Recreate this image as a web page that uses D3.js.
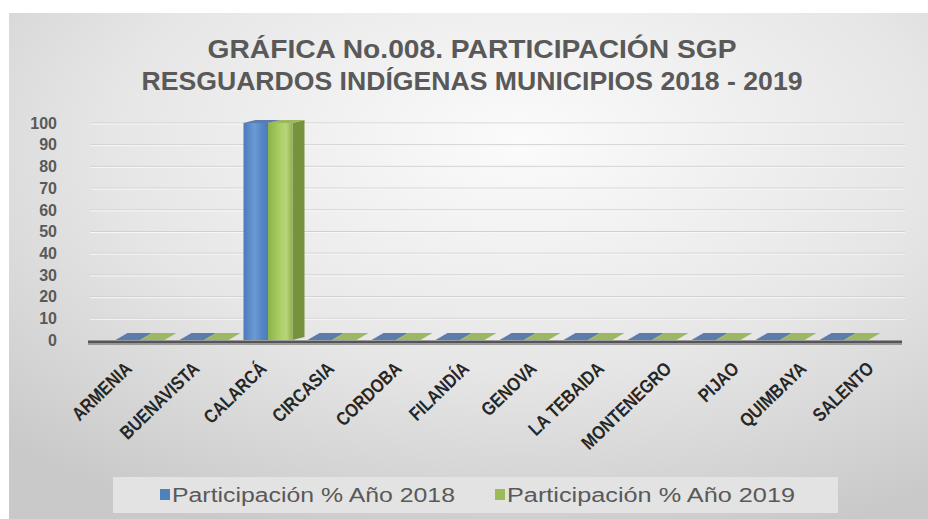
<!DOCTYPE html>
<html><head><meta charset="utf-8">
<script src="https://cdn.jsdelivr.net/npm/d3@7"></script>
<style>body{margin:0;background:#fff}svg{display:block}</style>
</head><body><svg id="c" width="928" height="519"></svg>
<script>
const titleLines = ["GRÁFICA No.008. PARTICIPACIÓN SGP", "RESGUARDOS INDÍGENAS MUNICIPIOS 2018 - 2019"];
const categories = ["ARMENIA","BUENAVISTA","CALARCÁ","CIRCASIA","CORDOBA","FILANDÍA","GENOVA","LA TEBAIDA","MONTENEGRO","PIJAO","QUIMBAYA","SALENTO"];
const seriesNames = ["Participación % Año 2018", "Participación % Año 2019"];
const values2018 = [0,0,100,0,0,0,0,0,0,0,0,0];
const values2019 = [0,0,100,0,0,0,0,0,0,0,0,0];
const yTicks = [0,10,20,30,40,50,60,70,80,90,100];

const svg = d3.select("#c");
const defs = svg.append("defs");

// background gradient
const bg = defs.append("radialGradient").attr("id","bg").attr("cx","55%").attr("cy","25%").attr("r","80%");
bg.append("stop").attr("offset","0%").attr("stop-color","#fbfbfb");
bg.append("stop").attr("offset","55%").attr("stop-color","#e6e6e6");
bg.append("stop").attr("offset","100%").attr("stop-color","#c9c9c9");
svg.append("rect").attr("x",9).attr("y",13).attr("width",930).attr("height",520).attr("fill","url(#bg)");

const palettes = [
  {front:["#4a7bbb","#6b9bd5","#5586c6","#4d7cbb"], top:"#5a7dae", side:"#3e6596", legend:"#4f81bd"},
  {front:["#8ab447","#a9cd62","#b7d578","#8fb14c"], top:"#9db862", side:"#76923c", legend:"#9bbb59"}
];
palettes.forEach((p,i)=>{
  const g = defs.append("linearGradient").attr("id","fr"+i).attr("x1","0%").attr("x2","100%").attr("y1","0%").attr("y2","0%");
  [0,0.45,0.75,1].forEach((o,k)=>g.append("stop").attr("offset",o).attr("stop-color",p.front[k]));
});

// title
const titleWidths = [529, 661];
titleLines.forEach((t,i)=>{
  svg.append("text").attr("x",472).attr("y",58 + i*32).attr("text-anchor","middle")
    .attr("font-family","Liberation Sans, Arial, sans-serif").attr("font-weight","bold")
    .attr("font-size",25).attr("fill","#595959")
    .attr("textLength",titleWidths[i]).attr("lengthAdjust","spacingAndGlyphs").text(t);
});

// scales
const y = d3.scaleLinear().domain([0,100]).range([340,123]);
const x = d3.scaleBand().domain(categories).range([108,876]).paddingInner(0).paddingOuter(0);
const groupW = 49;
const xs = d3.scaleBand().domain(seriesNames).range([0,groupW]);
const xLabel = d3.scalePoint().domain(categories).range([133,875]);

// gridlines
svg.append("g").selectAll("line").data(yTicks.filter(d=>d>0)).join("line")
  .attr("x1",90).attr("x2",905).attr("y1",d=>y(d)).attr("y2",d=>y(d))
  .attr("stroke","#d0d0d0").attr("stroke-width",1);
svg.append("g").selectAll("line").data(yTicks.filter(d=>d>0)).join("line")
  .attr("x1",90).attr("x2",905).attr("y1",d=>y(d)+1).attr("y2",d=>y(d)+1)
  .attr("stroke","#f7f7f7").attr("stroke-width",1);

// y labels
svg.append("g").selectAll("text").data(yTicks).join("text")
  .attr("x",57).attr("y",d=>y(d)).attr("dy","0.36em").attr("text-anchor","end")
  .attr("font-family","Liberation Sans, Arial, sans-serif").attr("font-weight","bold")
  .attr("font-size",16).attr("fill","#595959").text(d=>d);

// floor line
svg.append("line").attr("x1",88).attr("x2",902).attr("y1",y(0)+2).attr("y2",y(0)+2)
  .attr("stroke","#555").attr("stroke-width",3);
svg.append("line").attr("x1",88).attr("x2",902).attr("y1",y(0)+4.5).attr("y2",y(0)+4.5)
  .attr("stroke","#9a9a9a").attr("stroke-width",1);

// bars
const rows = [];
categories.forEach((c,ci)=>{
  [values2018, values2019].forEach((vals,si)=>{
    rows.push({c, s:seriesNames[si], si, v:vals[ci]});
  });
});
const barsG = svg.append("g");
rows.forEach(d=>{
  const x0 = x(d.c) + (x.bandwidth()-groupW)/2 + xs(d.s);
  const w = xs.bandwidth();
  const yt = y(d.v), yb = y(0);
  const dx = 12, dy = 7 - 4*(d.v/100);
  const p = palettes[d.si];
  const g = barsG.append("g");
  if (d.v > 0) {
    g.append("path").attr("d",`M${x0+w},${yb}L${x0+w+dx},${yb-dy}L${x0+w+dx},${yt-dy}L${x0+w},${yt}Z`).attr("fill",p.side);
  }
  g.append("path").attr("d",`M${x0},${yt}L${x0+dx},${yt-dy}L${x0+w+dx},${yt-dy}L${x0+w},${yt}Z`).attr("fill",p.top);
  if (d.v > 0) {
    g.append("rect").attr("x",x0).attr("y",yt).attr("width",w).attr("height",yb-yt).attr("fill",`url(#fr${d.si})`);
  }
});

// x labels
const xl = svg.append("g").selectAll("text").data(categories).join("text")
  .attr("transform",d=>`translate(${xLabel(d)},370) rotate(-44)`)
  .attr("text-anchor","end")
  .attr("font-family","Liberation Sans, Arial, sans-serif").attr("font-weight","bold")
  .attr("font-size",19).attr("fill","#262626").text(d=>d);
xl.each(function(){ const L = this.getComputedTextLength(); d3.select(this).attr("textLength", L*0.84).attr("lengthAdjust","spacingAndGlyphs"); });

// legend
svg.append("rect").attr("x",113).attr("y",477).attr("width",725).attr("height",36).attr("fill","#e3e3e3");
const legendX = [160, 495];
const legendW = [283, 288];
seriesNames.forEach((s,i)=>{
  svg.append("rect").attr("x",legendX[i]).attr("y",489).attr("width",10).attr("height",11).attr("fill",palettes[i].legend);
  svg.append("text").attr("x",legendX[i]+12).attr("y",502)
    .attr("font-family","Liberation Sans, Arial, sans-serif").attr("font-size",20).attr("fill","#595959")
    .attr("textLength",legendW[i]).attr("lengthAdjust","spacingAndGlyphs").text(s);
});
</script></body></html>
